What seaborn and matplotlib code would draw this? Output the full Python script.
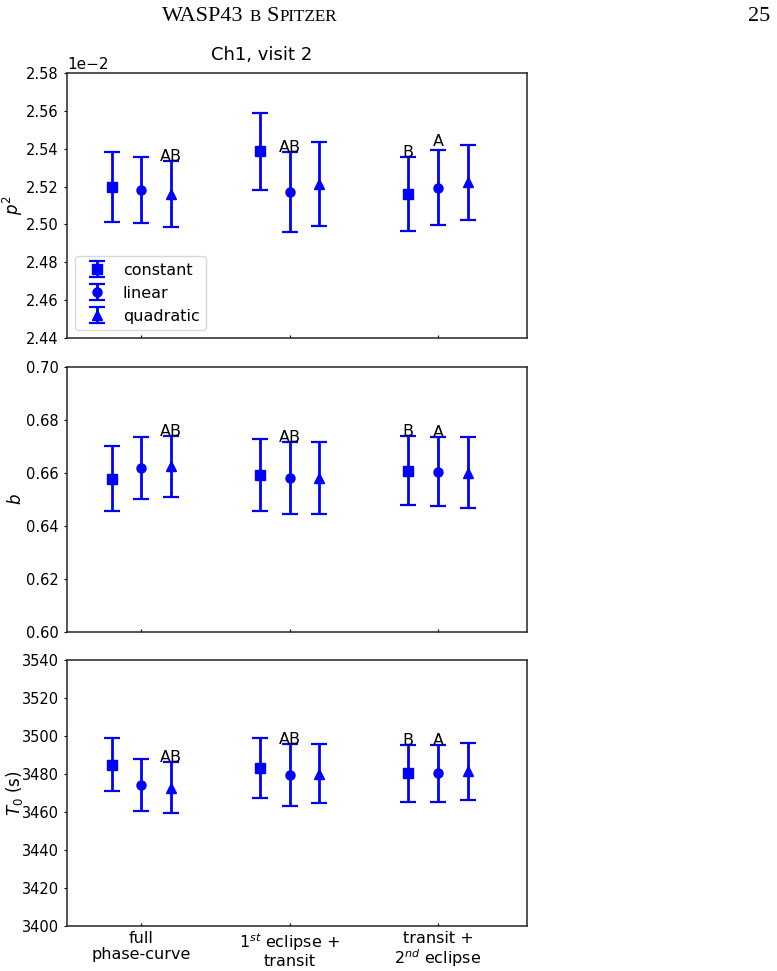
"""
Ch1, visit 2: fitted p^2, b and T0 for three light-curve segments and
three ramp models (constant / linear / quadratic)
"""

import numpy as np
import pandas as pd
import matplotlib
matplotlib.use("Agg")
import matplotlib.pyplot as plt
import seaborn as sns

# ---- data ----
segments = ["full\nphase-curve", "1$^{st}$ eclipse +\ntransit", "transit +\n2$^{nd}$ eclipse"]
models = ["constant", "linear", "quadratic"]

# p^2 (axis shows them in units of 1e-2)
p2_constant = [0.025197, 0.025386, 0.025160]
p2_constant_err = [0.000184, 0.000204, 0.000196]
p2_linear = [0.025182, 0.025172, 0.025195]
p2_linear_err = [0.000174, 0.000212, 0.000198]
p2_quadratic = [0.025160, 0.025214, 0.025222]
p2_quadratic_err = [0.000175, 0.000222, 0.000199]

# impact parameter b
b_constant = [0.6579, 0.6593, 0.6608]
b_constant_err = [0.0124, 0.0135, 0.0130]
b_linear = [0.6618, 0.6581, 0.6604]
b_linear_err = [0.0116, 0.0137, 0.0130]
b_quadratic = [0.6626, 0.6581, 0.6601]
b_quadratic_err = [0.0115, 0.0137, 0.0133]

# T0 (s)
t0_constant = [3484.9, 3483.2, 3480.4]
t0_constant_err = [13.9, 15.8, 14.9]
t0_linear = [3474.2, 3479.5, 3480.4]
t0_linear_err = [13.5, 16.1, 15.1]
t0_quadratic = [3472.8, 3480.2, 3481.5]
t0_quadratic_err = [13.5, 15.6, 15.0]

# letter tags written on top of the error bars: (segment, model, text, extra lift)
p2_tags = [(0, "quadratic", "AB", 0.0), (1, "linear", "AB", 0.0),
           (2, "constant", "B", 0.0), (2, "linear", "A", 0.000022)]
b_tags = [(0, "quadratic", "AB", 0.0), (1, "linear", "AB", 0.0),
          (2, "constant", "B", 0.0), (2, "linear", "A", 0.0)]
t0_tags = [(0, "quadratic", "AB", 0.0), (1, "linear", "AB", 0.0),
           (2, "constant", "B", 0.0), (2, "linear", "A", 0.0)]


def make_frame(vals, errs):
    rows = []
    for m, v, e in zip(models, vals, errs):
        for i, (vi, ei) in enumerate(zip(v, e)):
            rows.append({"segment": i, "model": m, "value": vi, "err": ei})
    return pd.DataFrame(rows)


p2_df = make_frame([p2_constant, p2_linear, p2_quadratic],
                   [p2_constant_err, p2_linear_err, p2_quadratic_err])
b_df = make_frame([b_constant, b_linear, b_quadratic],
                  [b_constant_err, b_linear_err, b_quadratic_err])
t0_df = make_frame([t0_constant, t0_linear, t0_quadratic],
                   [t0_constant_err, t0_linear_err, t0_quadratic_err])

# ---- style ----
sns.set_style("ticks", {"axes.edgecolor": ".15",
                        "xtick.direction": "in", "ytick.direction": "out",
                        "text.color": "black", "axes.labelcolor": "black",
                        "xtick.color": "black", "ytick.color": "black"})
plt.rcParams["font.family"] = ["DejaVu Sans"]
plt.rcParams["xtick.major.size"] = 2.5
plt.rcParams["ytick.major.size"] = 2.5
plt.rcParams["axes.linewidth"] = 1.1
plt.rcParams["mathtext.fontset"] = "dejavusans"

marker_of = {"constant": "s", "linear": "o", "quadratic": "^"}
offset_of = {"constant": -0.2, "linear": 0.0, "quadratic": 0.2}

W, H = 777, 971
fig = plt.figure(figsize=(W / 100, H / 100), dpi=100)

left, width = 67 / W, 460 / W
boxes = [(73, 338), (367, 632), (660, 926)]
axes = [fig.add_axes([left, 1 - b / H, width, (b - t) / H]) for t, b in boxes]


def draw_panel(ax, df, tags, ylim, step, ylabel):
    for m in models:
        sub = df[df["model"] == m]
        ax.errorbar(sub["segment"] + offset_of[m], sub["value"], yerr=sub["err"],
                    fmt=marker_of[m], color="#0000ff", ms=6.5, elinewidth=2,
                    capsize=6, capthick=1.6, label=m)
    for seg, m, txt, lift in tags:
        row = df[(df["segment"] == seg) & (df["model"] == m)].iloc[0]
        ax.text(seg + offset_of[m], row["value"] + row["err"] + lift, txt,
                ha="center", va="baseline", fontsize=11.5, color="black")
    ax.set_xlim(-0.5, 2.6)
    ax.set_xticks(range(len(segments)))
    ax.set_ylim(*ylim)
    ax.set_yticks(np.arange(ylim[0], ylim[1] + step / 2, step))
    ax.set_ylabel(ylabel, fontsize=12)
    ax.yaxis.set_label_coords(-0.092, 0.5)
    ax.tick_params(labelsize=10.5, right=False, top=False)


draw_panel(axes[0], p2_df, p2_tags, (0.0244, 0.0258), 0.0002, "$p^2$")
axes[0].ticklabel_format(axis="y", style="sci", scilimits=(-2, -2))
axes[0].yaxis.get_offset_text().set_fontsize(11)
axes[0].legend(loc="lower left", fontsize=11.5, handletextpad=0.6,
               borderpad=0.4, labelspacing=0.5, framealpha=1,
               edgecolor="0.85", handlelength=2.0)

draw_panel(axes[1], b_df, b_tags, (0.60, 0.70), 0.02, "$b$")
draw_panel(axes[2], t0_df, t0_tags, (3400, 3540), 20, "$T_0$ (s)")

for ax in axes[:2]:
    ax.set_xticklabels([])
axes[2].set_xticklabels(segments, fontsize=11.5, linespacing=1.1)

fig.text(262 / W, 1 - 55 / H, "Ch1, visit 2", ha="center", va="center", fontsize=13)

# page header in small caps, drawn piece by piece
renderer = fig.canvas.get_renderer()
serif = ["Liberation Serif", "DejaVu Serif"]
x = 162.0
base = 1 - 21 / H
for txt, size, gap in [("WASP43", 16, 6), ("B", 12.3, 6), ("S", 16, 0), ("PITZER", 12.3, 0)]:
    t = fig.text(x / W, base, txt, fontsize=size, family=serif, ha="left", va="baseline")
    x += t.get_window_extent(renderer).width + gap
fig.text(770 / W, base, "25", fontsize=16, family=serif, ha="right", va="baseline")

plt.savefig("out.png", dpi=100)
plt.close()
